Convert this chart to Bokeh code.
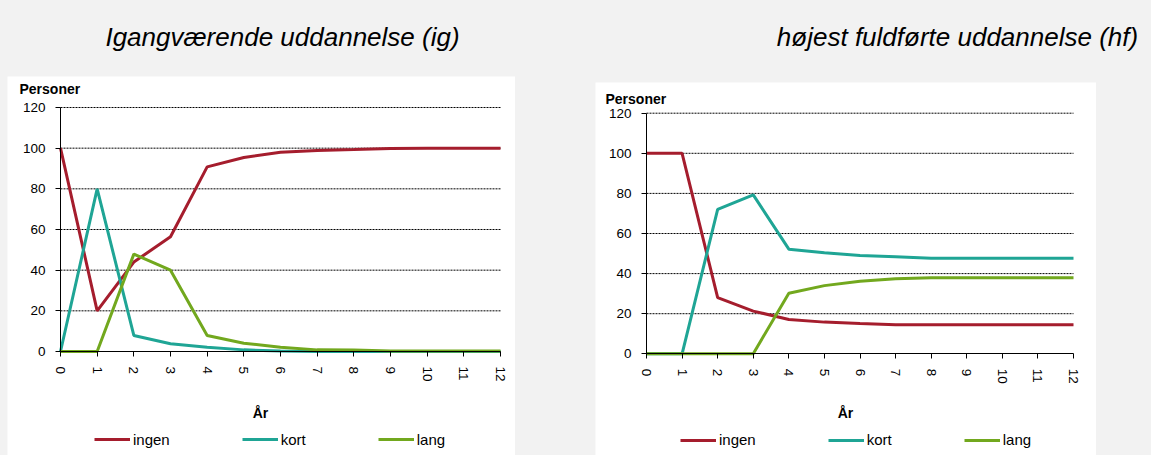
from bokeh.plotting import figure
from bokeh.models import Range1d, FixedTicker, Label, Legend, LegendItem, LinearAxis
from bokeh.layouts import column, row
from bokeh.embed import file_html
from bokeh.resources import INLINE

# ---------------- data ----------------
years = list(range(13))
x_tick_labels = [str(y) for y in years]
y_ticks = [0, 20, 40, 60, 80, 100, 120]
grid_levels = [20, 40, 60, 80, 100, 120]

ig_ingen = [100, 20, 44, 56.4, 90.8, 95.4, 98, 98.9, 99.3, 99.8, 100, 100, 100]
ig_kort = [0, 80, 7.9, 3.8, 2.1, 0.8, 0.3, 0, 0, 0, 0, 0, 0]
ig_lang = [0, 0, 47.9, 40, 7.9, 4.1, 2.1, 0.8, 0.7, 0.2, 0.2, 0.2, 0.2]

hf_ingen = [100, 100, 28, 21.3, 17.1, 15.8, 15.1, 14.5, 14.5, 14.5, 14.5, 14.5, 14.5]
hf_kort = [0, 0, 72, 79.3, 52.2, 50.4, 49, 48.4, 47.7, 47.7, 47.7, 47.7, 47.7]
hf_lang = [0, 0, 0, 0, 30.2, 34, 36.2, 37.4, 37.9, 37.9, 37.9, 37.9, 37.9]

series_names = ["ingen", "kort", "lang"]
titles = ["Igangværende uddannelse (ig)", "højest fuldførte uddannelse (hf)"]
y_title = "Personer"
x_title = "År"

# ---------------- style ----------------
FONT = "Liberation Sans"
GRAY = "#f2f2f2"
COLORS = ["#A51D2D", "#1FA595", "#72A81E"]
PAGE_W, PAGE_H = 1151, 455
HEADER_H = 76


def make_chart(series, width, height, fx0, fx1, fy_top, fy_zero,
               ytitle_pos, xtitle_pos, legend_pos, margin):
    # fx0/fx1: pixel columns of x=0 and x=12 inside the panel,
    # fy_top/fy_zero: pixel rows of y=120 and y=0 inside the panel
    sx = (fx1 - fx0) / 12.0
    sy = (fy_zero - fy_top) / 120.0
    x_start = 0 - fx0 / sx
    x_end = 12 + (width - fx1) / sx
    y_end = 120 + fy_top / sy
    y_start = 0 - (height - fy_zero) / sy

    def dx(px):
        return x_start + px / sx

    def dy(py):
        return y_end - py / sy

    p = figure(width=width, height=height, title=None,
               x_range=Range1d(x_start, x_end), y_range=Range1d(y_start, y_end),
               x_axis_type=None, y_axis_type=None,
               output_backend="svg", toolbar_location=None,
               min_border=0, min_border_left=0, min_border_right=0,
               min_border_top=0, min_border_bottom=0,
               background_fill_color="white", border_fill_color="white",
               outline_line_color=None)
    p.margin = margin

    # dotted horizontal gridlines over the data area
    p.segment(x0=[years[0]] * len(grid_levels), x1=[years[-1]] * len(grid_levels),
              y0=grid_levels, y1=grid_levels, line_color="black",
              line_width=1, line_dash="2 1")

    xaxis = LinearAxis(ticker=FixedTicker(ticks=years), fixed_location=0,
                       bounds=(years[0], years[-1]),
                       major_label_overrides={y: l for y, l in zip(years, x_tick_labels)},
                       major_label_orientation="vertical")
    yaxis = LinearAxis(ticker=FixedTicker(ticks=y_ticks), fixed_location=0,
                       bounds=(y_ticks[0], y_ticks[-1]))
    for ax in (xaxis, yaxis):
        ax.axis_line_color = "black"
        ax.axis_line_width = 1
        ax.major_tick_line_color = "black"
        ax.major_tick_out = 5
        ax.major_tick_in = 0
        ax.minor_tick_line_color = None
        ax.major_label_text_font = FONT
        ax.major_label_text_font_size = "13.5px"
        ax.major_label_text_color = "black"
        ax.major_label_standoff = 10
    p.add_layout(xaxis, "below")
    p.add_layout(yaxis, "left")

    renderers = []
    for vals, c in zip(series, COLORS):
        r = p.line(years, vals, line_color=c, line_width=3)
        renderers.append(r)

    p.add_layout(Label(x=dx(ytitle_pos[0]), y=dy(ytitle_pos[1]), text=y_title,
                       text_font=FONT, text_font_style="bold",
                       text_font_size="14px", text_align="left",
                       text_baseline="middle", text_color="black"))
    p.add_layout(Label(x=dx(xtitle_pos[0]), y=dy(xtitle_pos[1]), text=x_title,
                       text_font=FONT, text_font_style="bold",
                       text_font_size="14px", text_align="center",
                       text_baseline="middle", text_color="black"))

    legend = Legend(items=[LegendItem(label=n, renderers=[r])
                           for n, r in zip(series_names, renderers)],
                    location=legend_pos, orientation="horizontal",
                    background_fill_alpha=0, border_line_color=None,
                    padding=0, margin=0, spacing=72, label_standoff=3,
                    glyph_width=36, glyph_height=14, label_height=14,
                    label_text_font=FONT, label_text_font_size="15px",
                    label_text_color="black")
    p.add_layout(legend)
    return p


left = make_chart([ig_ingen, ig_kort, ig_lang], 508, PAGE_H - HEADER_H,
                  53, 493, 31, 275, (12, 12), (253, 336.5), (87, 7.5),
                  (0, 0, 0, 7))
right = make_chart([hf_ingen, hf_kort, hf_lang], 501, PAGE_H - HEADER_H - 6,
                   51, 478, 30.7, 271.3, (10, 16), (250, 330.5), (85, 7),
                   (6, 0, 0, 80))

header = figure(width=PAGE_W, height=HEADER_H, x_range=Range1d(0, PAGE_W),
                y_range=Range1d(HEADER_H, 0), x_axis_type=None, y_axis_type=None,
                output_backend="svg", toolbar_location=None, min_border=0,
                outline_line_color=None, background_fill_color=GRAY,
                border_fill_color=GRAY, title=None)
for t, cx in zip(titles, [282, 957]):
    header.add_layout(Label(x=cx, y=36.7, text=t, text_font=FONT,
                            text_font_style="italic", text_font_size="26px",
                            text_align="center", text_baseline="alphabetic",
                            text_color="black"))

root = column(header, row(left, right), styles={"background-color": GRAY})

open("out.html", "w").write(file_html(root, INLINE))
